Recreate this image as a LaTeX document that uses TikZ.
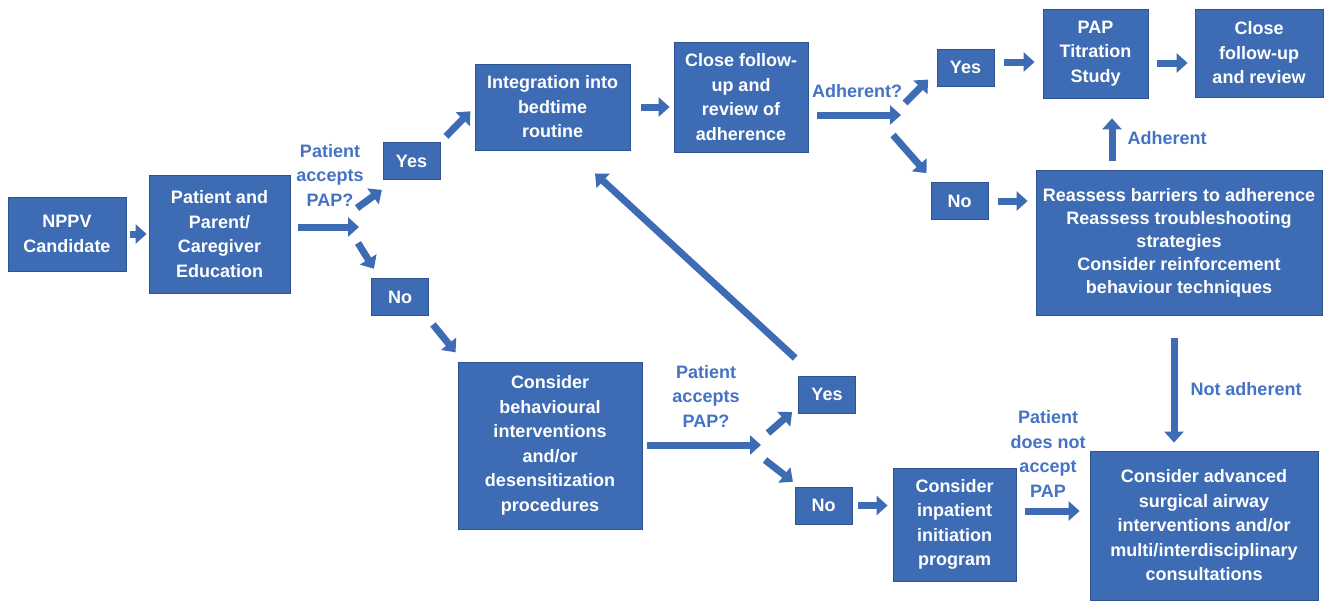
\documentclass[tikz,border=0pt]{standalone}
\usepackage{fontspec}
\setmainfont{Liberation Sans}
\usepackage{xcolor}
\usepackage{tikz}
\usetikzlibrary{arrows.meta}
\definecolor{boxblue}{HTML}{3D6CB4}
\definecolor{boxline}{HTML}{2E5490}
\definecolor{lblblue}{HTML}{4472C4}
\tikzset{
  box/.style={draw=boxline, fill=boxblue, text=white, line width=0.8pt, inner sep=0pt,
    align=center, font=\fontsize{18}{24.5}\selectfont\bfseries},
  ans/.style={box, minimum width=57pt, minimum height=37pt},
  lbl/.style={text=lblblue, align=center, inner sep=0pt, font=\fontsize{18}{24.5}\selectfont\bfseries},
  blk/.style={draw=boxblue, line width=7pt, -{Triangle[length=11pt,width=19pt]}},
}
\begin{document}
\begin{tikzpicture}[x=1pt,y=-1pt]
\useasboundingbox (0,0) rectangle (1330,606);
\node[box, minimum width=118pt, minimum height=74pt] (nppv) at (67,234) {NPPV\\Candidate};
\node[box, minimum width=141pt, minimum height=118pt] (edu) at (219.5,234) {Patient and\\Parent/\\Caregiver\\Education};
\node[ans] (yes1) at (411.5,161) {Yes};
\node[ans] (no1) at (400,297) {No};
\node[box, minimum width=155pt, minimum height=86pt] (integ) at (552.5,107) {Integration into\\bedtime\\routine};
\node[box, minimum width=134pt, minimum height=110pt] (close1) at (741,97) {Close follow-\\up and\\review of\\adherence};
\node[ans] (yes2) at (965.5,67.5) {Yes};
\node[box, minimum width=105pt, minimum height=89pt] (pap) at (1095.5,53.5) {PAP\\Titration\\Study};
\node[box, minimum width=128pt, minimum height=88pt] (close2) at (1259,53) {Close\\follow-up\\and review};
\node[ans] (no2) at (959.5,201) {No};
\node[box, minimum width=286pt, minimum height=145pt, font=\fontsize{18}{23}\selectfont\bfseries] (reass) at (1179,242.5)
  {Reassess barriers to adherence\\Reassess troubleshooting\\strategies\\Consider reinforcement\\behaviour techniques};
\node[box, minimum width=184pt, minimum height=167pt] (behav) at (550,445.5)
  {Consider\\behavioural\\interventions\\and/or\\desensitization\\procedures};
\node[ans] (yes3) at (827,394.5) {Yes};
\node[ans] (no3) at (823.5,505.5) {No};
\node[box, minimum width=123pt, minimum height=113pt] (inpat) at (954.5,524.5) {Consider\\inpatient\\initiation\\program};
\node[box, minimum width=228pt, minimum height=149pt] (adv) at (1204,525.5)
  {Consider advanced\\surgical airway\\interventions and/or\\multi/interdisciplinary\\consultations};

\node[lbl] (lab1) at (330,175) {Patient\\accepts\\PAP?};
\node[lbl] (lab2) at (857,91) {Adherent?};
\node[lbl] (lab3) at (706,396) {Patient\\accepts\\PAP?};
\node[lbl] (lab4) at (1048,454) {Patient\\does not\\accept\\PAP};
\node[lbl] (lab5) at (1167,138) {Adherent};
\node[lbl] (lab6) at (1246,389) {Not adherent};

\coordinate (j1) at (359,227);
\coordinate (f1y) at (357,208);
\coordinate (f1n) at (358,243);
\coordinate (j2) at (901,115);
\coordinate (f2y) at (905,103);
\coordinate (f2n) at (893,135);
\coordinate (j3) at (761,445);
\coordinate (f3y) at (768,433);
\coordinate (f3n) at (765,460);

\draw[blk, shorten <=4pt, shorten >=2pt] (nppv.east) -- (nppv.east -| edu.west);
\draw[blk, shorten <=8pt] (edu.east |- j1) -- (j1);
\draw[blk, shorten >=17pt] (f1y) -- (yes1.230);
\draw[blk, shorten >=11pt] (f1n) -- (no1.137);
\draw[blk, shorten <=8pt, shorten >=6pt] (yes1.north east) -- (integ.west);
\draw[blk, shorten <=11pt, shorten >=12pt] (no1.324) -- (behav.136);
\draw[blk, shorten <=11pt, shorten >=4pt] (integ.east) -- (integ.east -| close1.west);
\draw[blk, shorten <=9pt] (close1.east |- j2) -- (j2);
\draw[blk, shorten >=12pt] (f2y) -- (yes2.187);
\draw[blk, shorten >=12pt] (f2n) -- (no2.143);
\draw[blk, shorten <=10pt, shorten >=8pt] ([yshift=5.5pt]yes2.east) -- ([yshift=5.5pt]yes2.east -| pap.west);
\draw[blk, shorten <=9pt, shorten >=7pt] ([yshift=-9.5pt]pap.east) -- ([yshift=-9.5pt]pap.east -| close2.west);
\draw[blk, shorten <=10pt, shorten >=8pt] (no2.east) -- (no2.east -| reass.west);
\draw[blk, shorten <=9pt, shorten >=20pt] ([xshift=16.5pt]pap.south |- reass.north) -- ([xshift=16.5pt]pap.south);
\draw[blk, shorten <=23pt, shorten >=8pt] ([xshift=-5pt]reass.south) -- ([xshift=-5pt]reass.south |- adv.north);
\draw[blk, shorten <=5pt] (behav.east |- j3) -- (j3);
\draw[blk, shorten >=8pt] (f3y) -- (yes3.203);
\draw[blk, shorten >=8pt] (f3n) -- (no3.142);
\draw[blk, shorten <=26pt, shorten >=34pt] (yes3.124) -- (integ.292);
\draw[blk, shorten <=6pt, shorten >=5pt] (no3.east) -- (no3.east -| inpat.west);
\draw[blk, shorten <=9pt, shorten >=10pt] ([yshift=13.5pt]inpat.east) -- ([yshift=13.5pt]inpat.east -| adv.west);
\end{tikzpicture}
\end{document}
